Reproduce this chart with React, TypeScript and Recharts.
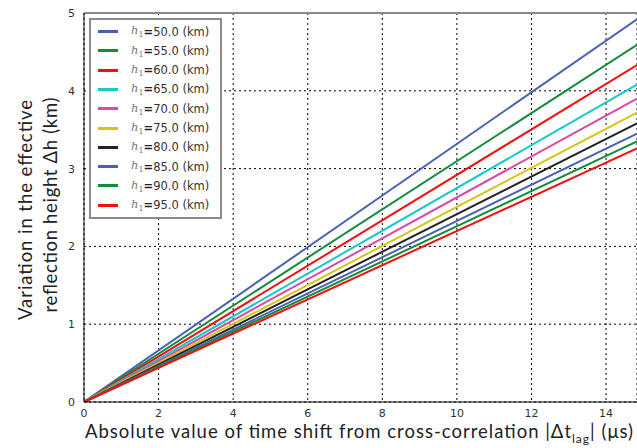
import React from "react";
import {
  LineChart,
  Line,
  XAxis,
  YAxis,
  CartesianGrid,
  ReferenceLine,
} from "recharts";

// time shift (us) at the two ends of each line
const timeShift = [0, 14.83];

const heights = ["50.0", "55.0", "60.0", "65.0", "70.0", "75.0", "80.0", "85.0", "90.0", "95.0"];

// Δh (km) at the right edge of the plot, read per h1
const dhAtEnd = [4.92, 4.59, 4.33, 4.08, 3.9, 3.72, 3.58, 3.45, 3.35, 3.26];

const lineColors = [
  "#4b62b3", // 50
  "#138c3c", // 55
  "#f21010", // 60
  "#14c8cc", // 65
  "#d84aa5", // 70
  "#d6c512", // 75
  "#232323", // 80
  "#4b62b3", // 85
  "#138c3c", // 90
  "#f21010", // 95
];

const xTicks = [0, 2, 4, 6, 8, 10, 12, 14];
const yTicks = [0, 1, 2, 3, 4, 5];

const data = timeShift.map((t, i) => {
  const row: Record<string, number> = { t };
  heights.forEach((h, k) => {
    row["h" + h] = i === 0 ? 0 : dhAtEnd[k];
  });
  return row;
});

const TICK = { fontSize: 11, fill: "#333", fontFamily: "DejaVu Sans" };
const LABEL_FONT = "Lato";

function XLabel() {
  return (
    <text
      x={85}
      y={438}
      textAnchor="start"
      fontFamily={LABEL_FONT}
      fontSize={18.5}
      fill="#222"
      textLength={548}
    >
      Absolute value of time shift from cross-correlation |Δt
      <tspan fontSize={12} dy={5}>lag</tspan>
      <tspan dy={-5}>| (μs)</tspan>
    </text>
  );
}

function YLabel() {
  return (
    <g fontFamily={LABEL_FONT} fontSize={18.5} fill="#222">
      <text x={32} y={210} textAnchor="middle" transform="rotate(-90 32 210)" textLength={220}>
        Variation in the effective
      </text>
      <text x={57} y={205} textAnchor="middle" transform="rotate(-90 57 205)" textLength={215}>
        reflection height Δh (km)
      </text>
    </g>
  );
}

function LegendBox() {
  return (
    <div
      style={{
        position: "absolute",
        left: 89,
        top: 18,
        width: 129,
        height: 197,
        border: "2px solid #8a8a8a",
        background: "#fff",
        fontFamily: "DejaVu Sans",
        fontSize: 11.5,
        color: "#333",
      }}
    >
      {heights.map((h, i) => (
        <div
          key={h}
          style={{
            position: "absolute",
            left: 7,
            top: 2 + i * 19.3,
            height: 19,
            display: "flex",
            alignItems: "center",
            whiteSpace: "nowrap",
          }}
        >
          <span style={{ display: "inline-block", width: 20, height: 3, background: lineColors[i] }} />
          <span style={{ marginLeft: 13, color: "#777", fontFamily: "DejaVu Serif", fontStyle: "italic" }}>
            h<sub style={{ fontSize: 8, fontStyle: "normal" }}>1</sub>
          </span>
          <span style={{ fontWeight: "bold", color: "#222" }}>=</span>
          <span>{h} (km)</span>
        </div>
      ))}
    </div>
  );
}

export default function App() {
  return (
    <div style={{ position: "absolute", left: 0, top: 0, width: 637, height: 448, background: "#fff" }}>
      <LineChart
        width={637}
        height={448}
        data={data}
        margin={{ top: 13, right: 0, left: 0, bottom: 0 }}
      >
        <CartesianGrid stroke="#000" strokeDasharray="2 3" strokeWidth={1} />
        <XAxis
          dataKey="t"
          type="number"
          domain={[0, 14.83]}
          ticks={xTicks}
          allowDataOverflow
          height={46}
          stroke="#000"
          tick={TICK}
          tickLine={false}
          tickMargin={1}
          label={<XLabel />}
        />
        <YAxis
          type="number"
          domain={[0, 5]}
          ticks={yTicks}
          width={84}
          stroke="#000"
          tick={TICK}
          tickLine={false}
          tickMargin={3}
          label={<YLabel />}
        />
        <ReferenceLine y={5} stroke="#8a8a8a" strokeWidth={2} />
        {heights.map((h, i) => (
          <Line
            key={h}
            dataKey={"h" + h}
            stroke={lineColors[i]}
            strokeWidth={2}
            dot={false}
            isAnimationActive={false}
          />
        ))}
      </LineChart>
      <LegendBox />
    </div>
  );
}
